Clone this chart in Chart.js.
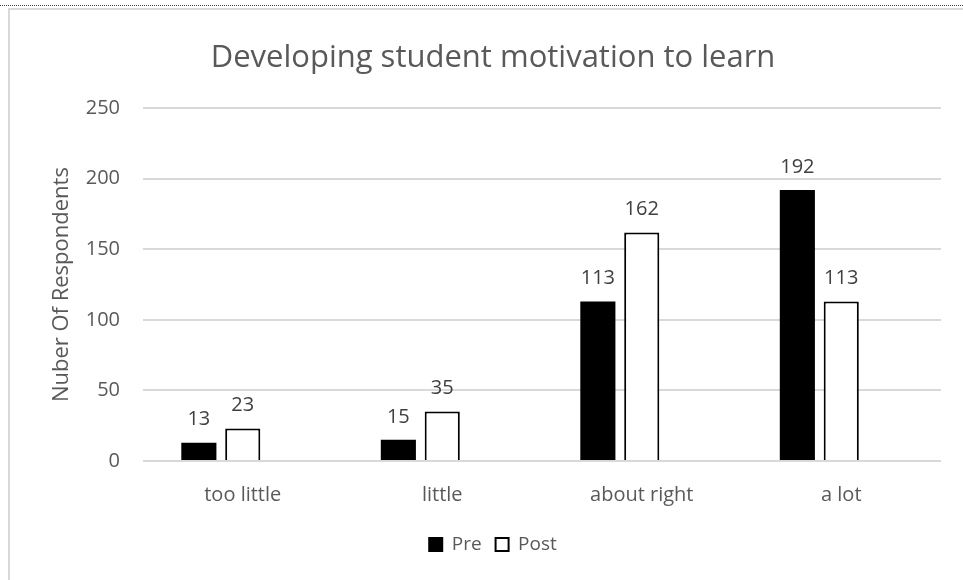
<!DOCTYPE html>
<html>
<head>
<meta charset="utf-8">
<script src="https://cdn.jsdelivr.net/npm/chart.js@4.4.0/dist/chart.umd.min.js"></script>
<style>
    html, body { margin: 0; padding: 0; background: #fff; }
    #dots {
        position: absolute; left: 0; top: 5px;
        width: 963px; height: 0;
        border-top: 1px dotted #444;
    }
    #frame {
        position: absolute; left: 8px; top: 8px;
        width: 955px; height: 572px;
        border-left: 2px solid #d9d9d9;
        border-top: 2px solid #d9d9d9;
        box-sizing: border-box;
    }
    canvas { position: absolute; left: 0; top: 0; }
</style>
</head>
<body>
<div id="dots"></div>
<div id="frame"></div>
<canvas id="chart" width="963" height="580"></canvas>
<script>
const categories = ['too little', 'little', 'about right', 'a lot'];
const preValues = [13, 15, 113, 192];
const postValues = [23, 35, 162, 113];
// third series left empty, it only reserves a slot in each group
const emptyValues = [null, null, null, null];
const yTicks = [0, 50, 100, 150, 200, 250];

const FONT = "'Open Sans', 'Noto Sans', sans-serif";
const GREY = '#595959';

// value labels above each bar
const barLabels = {
    id: 'barLabels',
    afterDatasetsDraw(chart) {
        const ctx = chart.ctx;
        ctx.save();
        ctx.font = '20px ' + FONT;
        ctx.fillStyle = '#404040';
        ctx.textAlign = 'center';
        ctx.textBaseline = 'bottom';
        chart.data.datasets.forEach((ds, i) => {
            chart.getDatasetMeta(i).data.forEach((bar, j) => {
                if (ds.data[j] == null) return;
                ctx.fillText(ds.data[j], bar.x, bar.y - 13);
            });
        });
        ctx.restore();
    }
};

const ctx = document.getElementById('chart').getContext('2d');
const chart = new Chart(ctx, {
    type: 'bar',
    data: {
        labels: categories,
        datasets: [{
            label: 'Pre',
            data: preValues,
            backgroundColor: '#000000',
            borderColor: '#000000',
            borderWidth: 0
        }, {
            label: 'Post',
            data: postValues,
            backgroundColor: '#ffffff',
            borderColor: '#000000',
            borderWidth: 2
        }, {
            label: '',
            data: emptyValues,
            backgroundColor: 'rgba(0,0,0,0)'
        }]
    },
    options: {
        responsive: false,
        animation: false,
        layout: { padding: { left: 45, right: 22, top: 10, bottom: 16 } },
        datasets: {
            bar: { categoryPercentage: 0.66, barPercentage: 0.8 }
        },
        plugins: {
            title: {
                display: true,
                text: 'Developing student motivation to learn',
                color: GREY,
                font: { family: FONT, size: 31, weight: 'normal' },
                padding: { top: 30, bottom: 31 }
            },
            legend: {
                position: 'bottom',
                labels: {
                    color: GREY,
                    font: { family: FONT, size: 19 },
                    boxWidth: 13,
                    boxHeight: 13,
                    padding: 14,
                    generateLabels(chart) {
                        return chart.data.datasets.slice(0, 2).map((ds, i) => ({
                            text: ds.label,
                            fillStyle: ds.backgroundColor,
                            strokeStyle: '#000000',
                            lineWidth: 2,
                            fontColor: GREY,
                            datasetIndex: i
                        }));
                    }
                }
            },
            tooltip: { enabled: false }
        },
        scales: {
            x: {
                grid: { display: false },
                border: { display: false },
                ticks: {
                    color: GREY,
                    font: { family: FONT, size: 20 },
                    padding: 14
                }
            },
            y: {
                min: 0,
                max: 250,
                afterBuildTicks(axis) {
                    axis.ticks = yTicks.map(v => ({ value: v }));
                },
                afterFit(axis) {
                    axis.width = 98;
                },
                grid: { color: '#d9d9d9', lineWidth: 2, drawTicks: false },
                border: { display: false },
                ticks: {
                    color: GREY,
                    font: { family: FONT, size: 20 },
                    padding: 23
                },
                title: {
                    display: true,
                    text: 'Nuber Of Respondents',
                    color: GREY,
                    font: { family: FONT, size: 22 },
                    padding: { top: 4, bottom: 10 }
                }
            }
        }
    },
    plugins: [barLabels]
});
</script>
</body>
</html>
